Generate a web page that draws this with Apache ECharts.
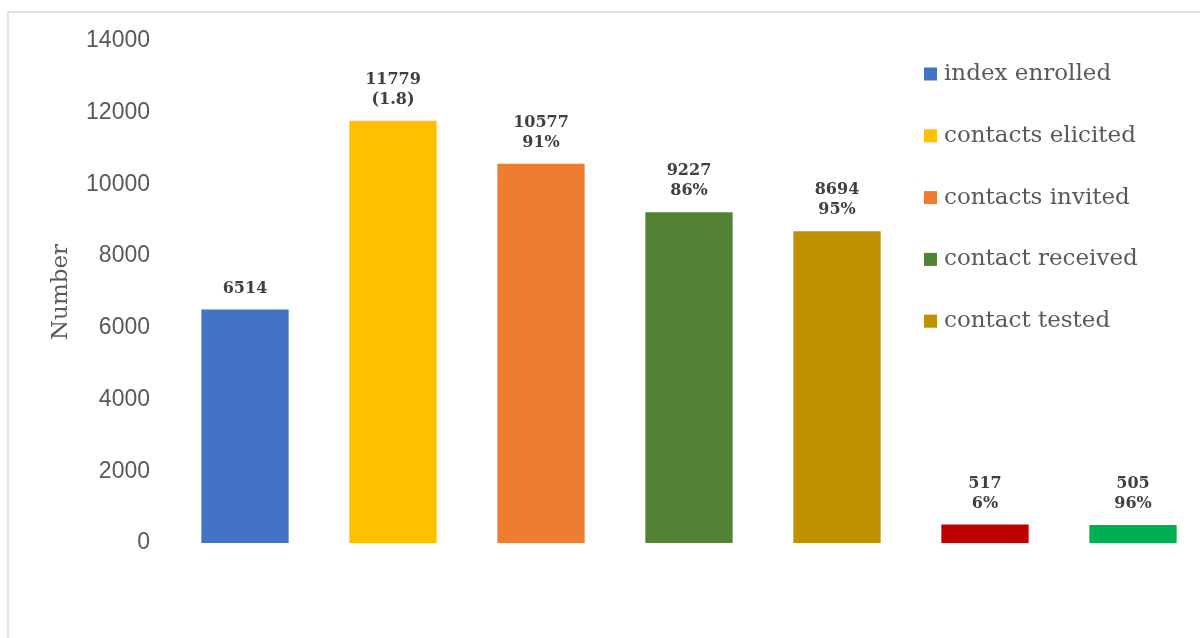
<!DOCTYPE html>
<html>
<head>
<meta charset="utf-8">
<script src="https://cdn.jsdelivr.net/npm/echarts@6/dist/echarts.min.js"></script>
<style>html,body{margin:0;padding:0;background:#fff}#c{width:1200px;height:638px}</style>
</head>
<body>
<div id="c"></div>
<script>
const categories = ["index enrolled", "contacts elicited", "contacts invited", "contact received", "contact tested", "contact positive", "contact linked"];
const values = [6514, 11779, 10577, 9227, 8694, 517, 505];
const labelTexts = ["6514", "11779\n(1.8)", "10577\n91%", "9227\n86%", "8694\n95%", "517\n6%", "505\n96%"];
const colors = ["#4472C4", "#FFC000", "#ED7D31", "#548235", "#BF9000", "#C00000", "#00B050"];
const legendNames = categories.slice(0, 5);
const yTicks = [0, 2000, 4000, 6000, 8000, 10000, 12000, 14000];

const series = categories.map((name, i) => ({
  name: name,
  type: 'bar',
  stack: 'all',
  barWidth: '59%',
  itemStyle: { color: colors[i] },
  data: categories.map((c, j) => j === i ? values[i] : null),
  label: {
    show: true,
    position: 'top',
    distance: 11,
    formatter: () => labelTexts[i],
    fontFamily: 'DejaVu Serif',
    fontWeight: 'bold',
    fontSize: 16,
    lineHeight: 20,
    color: '#404040',
    align: 'center'
  }
}));

const chart = echarts.init(document.getElementById('c'), null, { renderer: 'canvas' });
chart.setOption({
  animation: false,
  backgroundColor: '#fff',
  graphic: [{
    type: 'rect',
    shape: { x: 8, y: 12, width: 1400, height: 800 },
    style: { fill: 'none', stroke: '#d9d9d9', lineWidth: 1.5 },
    silent: true,
    z: -1
  }],
  grid: { left: 171, width: 1036, top: 41, bottom: 95, containLabel: false, outerBoundsMode: 'none' },
  legend: {
    data: legendNames,
    orient: 'vertical',
    left: 919,
    top: 57,
    itemWidth: 13,
    itemHeight: 13,
    itemGap: 37.8,
    icon: 'rect',
    textStyle: { fontFamily: 'DejaVu Serif', fontSize: 23, lineHeight: 24, color: '#595959', padding: [0, 0, 0, 2] }
  },
  xAxis: {
    type: 'category',
    data: categories,
    axisLine: { show: false },
    axisTick: { show: false },
    axisLabel: { show: false }
  },
  yAxis: {
    type: 'value',
    min: 0,
    max: 14000,
    interval: 2000,
    name: 'Number',
    nameLocation: 'middle',
    nameGap: 98,
    nameRotate: 90,
    nameTextStyle: { fontFamily: 'DejaVu Serif', fontSize: 23, color: '#595959' },
    splitLine: { show: false },
    axisLine: { show: false },
    axisTick: { show: false },
    axisLabel: {
      fontFamily: 'Liberation Sans',
      fontSize: 23,
      color: '#595959',
      margin: 21,
      padding: [4, 0, 0, 0],
      formatter: v => yTicks.includes(v) ? String(v) : ''
    }
  },
  series: series
});
</script>
</body>
</html>
